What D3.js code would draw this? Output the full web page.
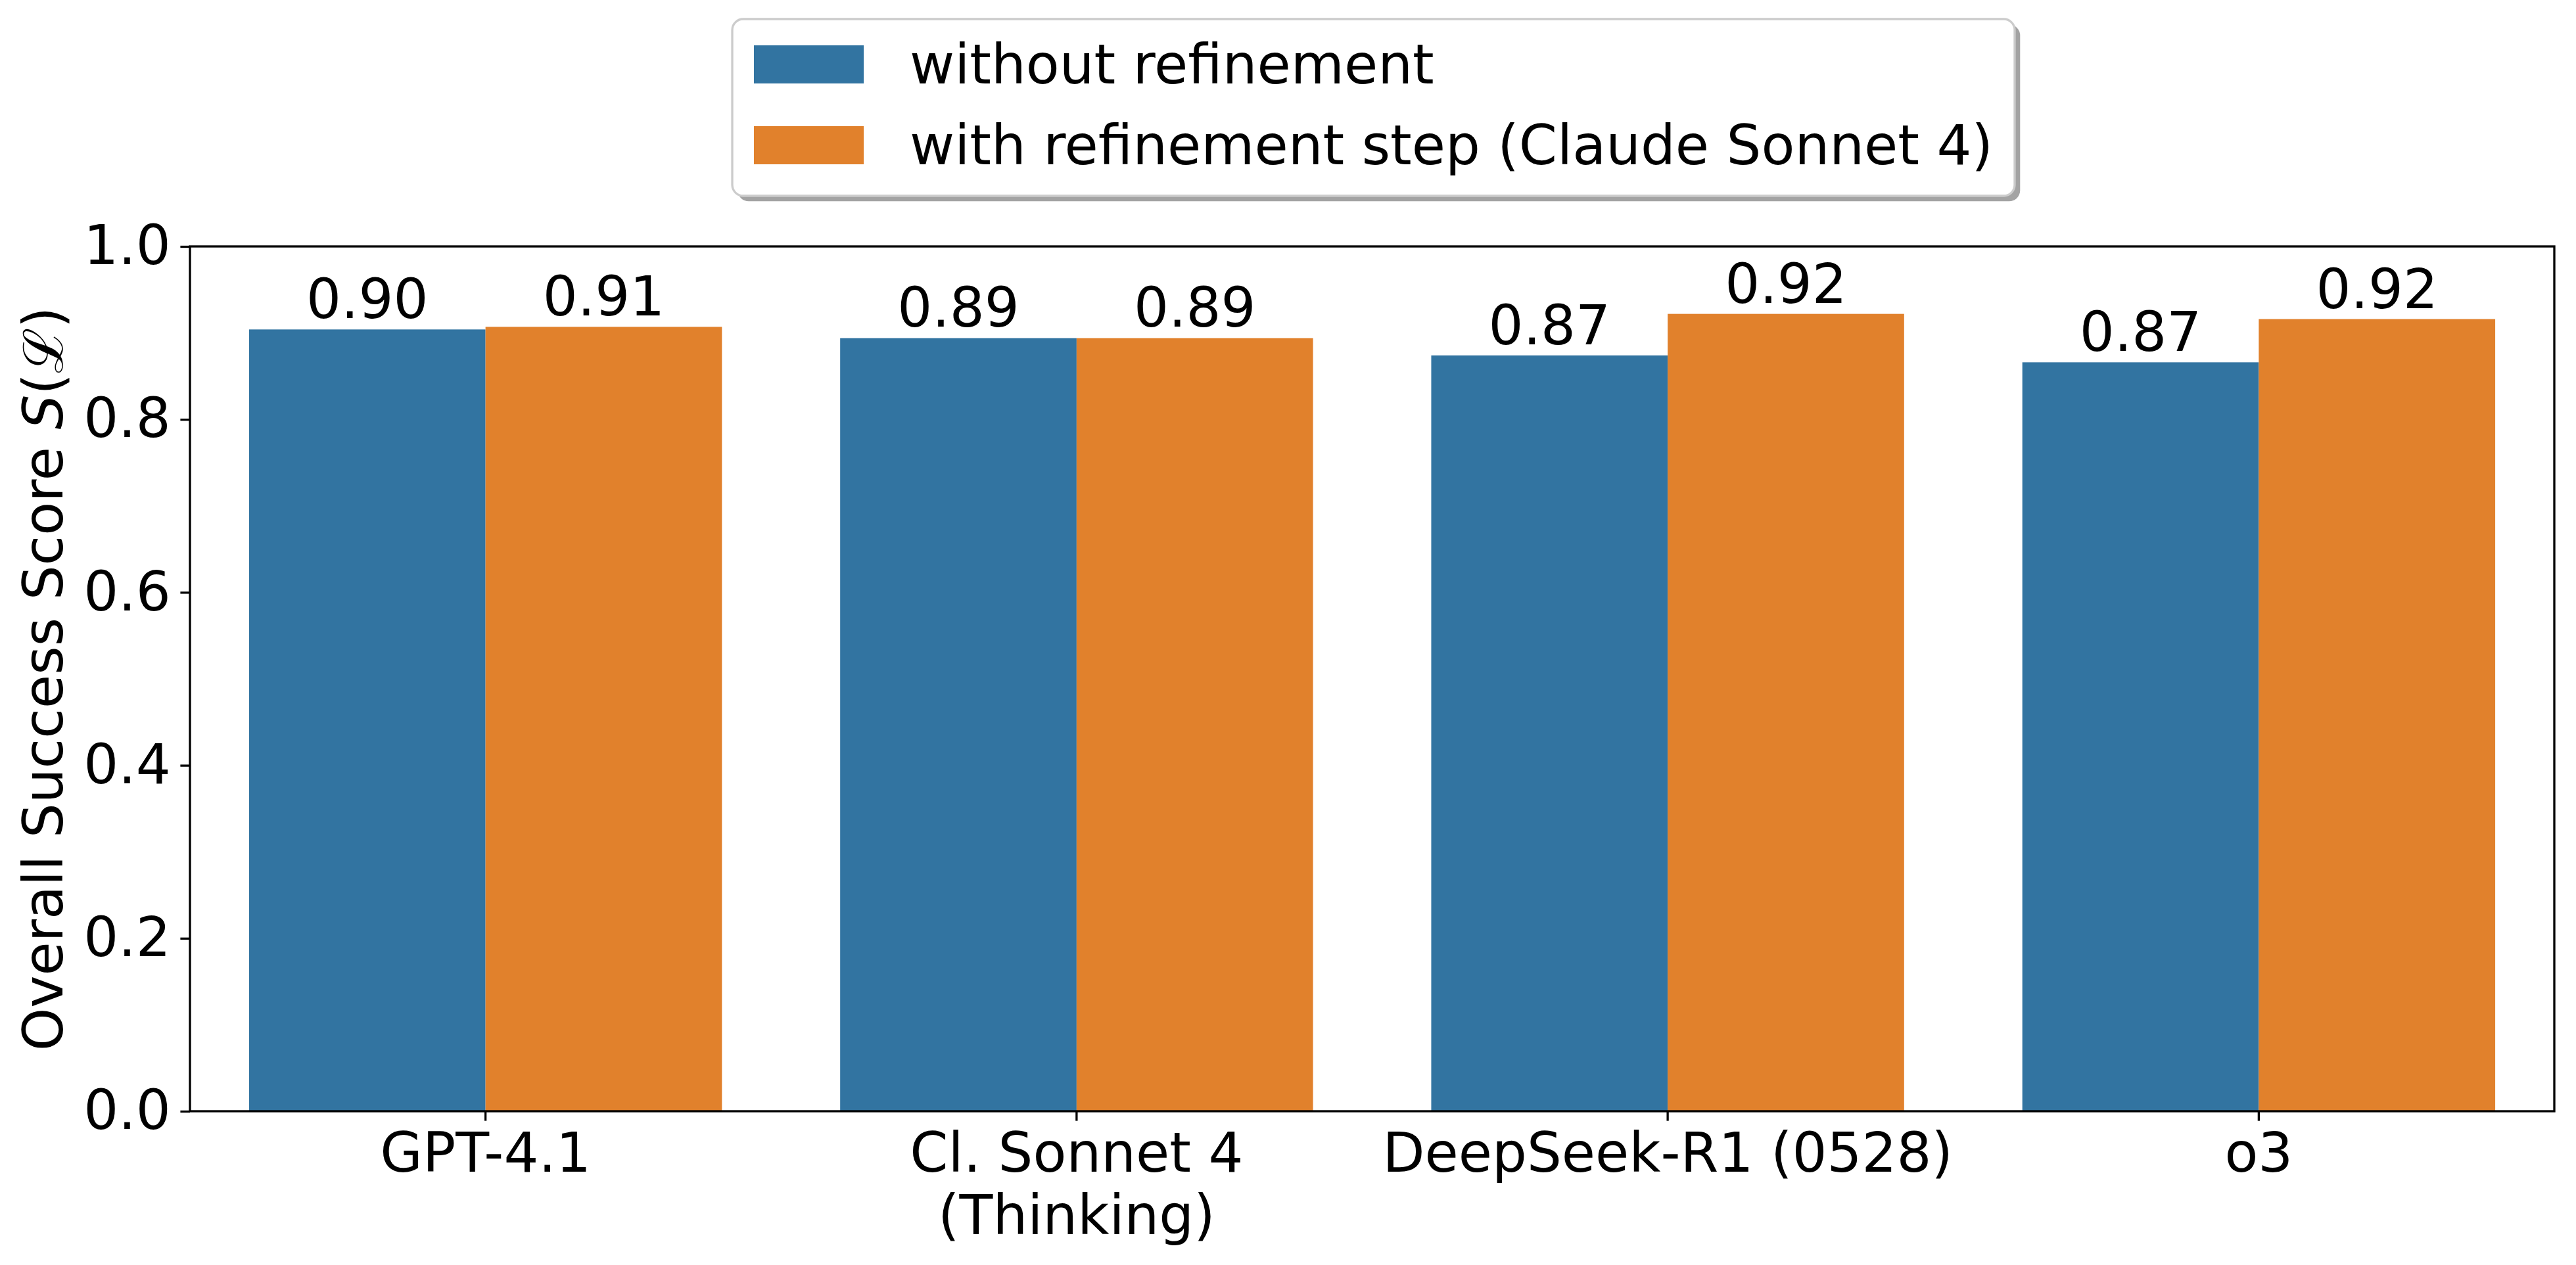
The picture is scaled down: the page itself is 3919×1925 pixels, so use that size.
<!DOCTYPE html>
<html>
<head>
<meta charset="utf-8">
<script src="https://cdn.jsdelivr.net/npm/d3@7"></script>
<style>
  html, body { margin: 0; padding: 0; background: #ffffff; }
  svg { display: block; }
  text { font-family: "DejaVu Sans", sans-serif; fill: #000; }
</style>
</head>
<body>
<div id="chart"></div>
<script>
// ---- data ----
const categories = ["GPT-4.1", "Cl. Sonnet 4\n(Thinking)", "DeepSeek-R1 (0528)", "o3"];
const seriesNames = ["without refinement", "with refinement step (Claude Sonnet 4)"];
const withoutRefinement = [0.904, 0.894, 0.874, 0.866];
const withRefinement = [0.907, 0.894, 0.922, 0.916];
const seriesColors = ["#3274a1", "#e1812c"];
const yTicks = [0.0, 0.2, 0.4, 0.6, 0.8, 1.0];
const yLabelText = "Overall Success Score ";

// ---- layout ----
const W = 3919, H = 1925;
const FS = 83.3;
const plot = { left: 289, right: 3886, top: 375, bottom: 1691 };

const svg = d3.select("#chart").append("svg")
  .attr("width", W).attr("height", H)
  .attr("viewBox", `0 0 ${W} ${H}`);

const x0 = d3.scaleBand().domain(categories).range([plot.left, plot.right]).padding(0);
const bw = x0.bandwidth();
const x1 = d3.scaleBand().domain(seriesNames).range([0.1 * bw, 0.9 * bw]).padding(0);
const y = d3.scaleLinear().domain([0, 1]).range([plot.bottom, plot.top]);

const seriesValues = [withoutRefinement, withRefinement];
const rows = [];
categories.forEach((c, i) => {
  seriesNames.forEach((s, j) => {
    rows.push({ cat: c, series: s, value: seriesValues[j][i], color: seriesColors[j] });
  });
});

// bars
svg.append("g").selectAll("rect").data(rows).join("rect")
  .attr("x", d => x0(d.cat) + x1(d.series))
  .attr("y", d => y(d.value))
  .attr("width", x1.bandwidth())
  .attr("height", d => y(0) - y(d.value))
  .attr("fill", d => d.color);

// bar labels
svg.append("g").selectAll("text").data(rows).join("text")
  .attr("x", d => x0(d.cat) + x1(d.series) + x1.bandwidth() / 2)
  .attr("y", d => y(d.value) - 17)
  .attr("text-anchor", "middle")
  .attr("font-size", FS)
  .text(d => d.value.toFixed(2));

// axes
const tickLen = 14.6;
const yAxis = d3.axisLeft(y).tickValues(yTicks).tickFormat(d3.format(".1f"))
  .tickSize(tickLen).tickPadding(14.6);
const gy = svg.append("g").attr("transform", `translate(${plot.left},0)`).call(yAxis);
gy.select(".domain").remove();
gy.selectAll(".tick line").attr("stroke", "#000").attr("stroke-width", 3.3);
gy.selectAll(".tick text").attr("font-size", FS).attr("font-family", "DejaVu Sans").attr("fill", "#000");

const xAxis = d3.axisBottom(x0).tickSize(tickLen).tickPadding(14.6).tickFormat("");
const gx = svg.append("g").attr("transform", `translate(0,${plot.bottom})`).call(xAxis);
gx.select(".domain").remove();
gx.selectAll(".tick line").attr("stroke", "#000").attr("stroke-width", 3.3);
gx.selectAll(".tick").each(function(d) {
  const lines = d.split("\n");
  const t = d3.select(this).append("text")
    .attr("text-anchor", "middle")
    .attr("font-size", FS)
    .attr("font-family", "DejaVu Sans")
    .attr("fill", "#000");
  lines.forEach((ln, k) => {
    t.append("tspan").attr("x", 0).attr("y", 92 + k * 95).text(ln);
  });
});

// frame
svg.append("rect")
  .attr("x", plot.left).attr("y", plot.top)
  .attr("width", plot.right - plot.left).attr("height", plot.bottom - plot.top)
  .attr("fill", "none").attr("stroke", "#000").attr("stroke-width", 3.3);

// y label
const yl = svg.append("text")
  .attr("transform", `translate(95,${(plot.top + plot.bottom) / 2}) rotate(-90)`)
  .attr("text-anchor", "middle")
  .attr("font-size", FS);
yl.append("tspan").text(yLabelText);
yl.append("tspan").attr("font-style", "italic").text("S");
yl.append("tspan").text("(");
yl.append("tspan").attr("font-family", "DejaVu Serif").text("\u2112");
yl.append("tspan").text(")");

// legend
const lg = { x: 1114, y: 29, w: 3065 - 1114, h: 298 - 29, r: 16.7 };
svg.append("rect")
  .attr("x", lg.x + 8.3).attr("y", lg.y + 8.3).attr("width", lg.w).attr("height", lg.h)
  .attr("rx", lg.r).attr("fill", "#a3a3a3");
svg.append("rect")
  .attr("x", lg.x).attr("y", lg.y).attr("width", lg.w).attr("height", lg.h)
  .attr("rx", lg.r).attr("fill", "#ffffff").attr("stroke", "#cccccc").attr("stroke-width", 3.3);
const legRowsY = [127, 250];
seriesNames.forEach((s, j) => {
  svg.append("rect")
    .attr("x", 1147).attr("y", legRowsY[j] - 58)
    .attr("width", 167).attr("height", 58)
    .attr("fill", seriesColors[j]);
  svg.append("text")
    .attr("x", 1384).attr("y", legRowsY[j])
    .attr("font-size", FS)
    .text(s);
});
</script>
</body>
</html>
